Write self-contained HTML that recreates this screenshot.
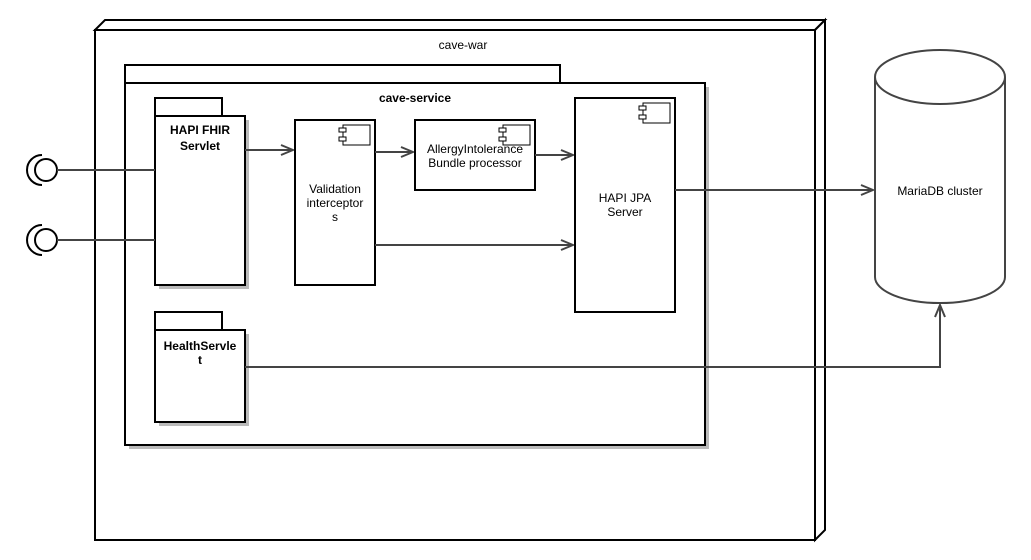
<!DOCTYPE html>
<html><head><meta charset="utf-8"><style>html,body{margin:0;padding:0;background:#fff}svg{display:block}text{font-family:"Liberation Sans",sans-serif;font-size:12px;fill:#000}</style></head><body>
<svg width="1031" height="560" viewBox="0 0 1031 560">
<defs><marker id="a" markerWidth="14" markerHeight="12" refX="13" refY="6" orient="auto" markerUnits="userSpaceOnUse"><path d="M1,1 L13,6 L1,11" fill="none" stroke="#444" stroke-width="2"/></marker></defs>
<g stroke="#000" stroke-width="2" fill="#fff">
<polygon points="95,30 105,20 825,20 815,30"/>
<polygon points="815,30 825,20 825,530 815,540"/>
<rect x="95" y="30" width="720" height="510"/>
</g>
<text x="463" y="49" text-anchor="middle">cave-war</text>
<rect x="129" y="87" width="580" height="362" fill="#bbb"/>
<g stroke="#000" stroke-width="2" fill="#fff">
<rect x="125" y="65" width="435" height="18"/>
<rect x="125" y="83" width="580" height="362"/>
</g>
<text x="415" y="102" text-anchor="middle" font-weight="bold">cave-service</text>
<rect x="159" y="120" width="90" height="169" fill="#bbb"/>
<rect x="159" y="334" width="90" height="92" fill="#bbb"/>
<g stroke="#000" stroke-width="2" fill="#fff">
<rect x="155" y="98" width="67" height="18"/>
<rect x="155" y="116" width="90" height="169"/>
<rect x="155" y="312" width="67" height="18"/>
<rect x="155" y="330" width="90" height="92"/>
<rect x="295" y="120" width="80" height="165"/>
<rect x="415" y="120" width="120" height="70"/>
<rect x="575" y="98" width="100" height="214"/>
</g>
<g stroke="#000" stroke-width="1" fill="#fff">
<rect x="343" y="125" width="27" height="20"/><rect x="339" y="128" width="7" height="4"/><rect x="339" y="137" width="7" height="4"/>
<rect x="503" y="125" width="27" height="20"/><rect x="499" y="128" width="7" height="4"/><rect x="499" y="137" width="7" height="4"/>
<rect x="643" y="103" width="27" height="20"/><rect x="639" y="106" width="7" height="4"/><rect x="639" y="115" width="7" height="4"/>
</g>
<g font-weight="bold" text-anchor="middle"><text x="200" y="134">HAPI FHIR</text><text x="200" y="150">Servlet</text>
<text x="200" y="350">HealthServle</text><text x="200" y="364">t</text></g>
<g text-anchor="middle"><text x="335" y="193">Validation</text><text x="335" y="207">interceptor</text><text x="335" y="221">s</text>
<text x="475" y="153">AllergyIntolerance</text><text x="475" y="167">Bundle processor</text>
<text x="625" y="202">HAPI JPA</text><text x="625" y="216">Server</text></g>
<path d="M875,77 A65,27 0 0 1 1005,77 L1005,277 A65,26 0 0 1 875,277 Z" fill="#fff" stroke="#444" stroke-width="2"/>
<path d="M875,77 A65,27 0 0 0 1005,77" fill="none" stroke="#444" stroke-width="2"/>
<text x="940" y="195" text-anchor="middle">MariaDB cluster</text>
<g stroke="#444" stroke-width="2" fill="none">
<circle cx="46" cy="170" r="11" stroke="#000"/><path d="M42,155 A15,15 0 0 0 42,185" stroke="#000"/>
<circle cx="46" cy="240" r="11" stroke="#000"/><path d="M42,225 A15,15 0 0 0 42,255" stroke="#000"/>
<line x1="57" y1="170" x2="155" y2="170"/><line x1="57" y1="240" x2="155" y2="240"/>
<line x1="245" y1="150" x2="293" y2="150" marker-end="url(#a)"/>
<line x1="375" y1="152" x2="413" y2="152" marker-end="url(#a)"/>
<line x1="535" y1="155" x2="573" y2="155" marker-end="url(#a)"/>
<line x1="375" y1="245" x2="573" y2="245" marker-end="url(#a)"/>
<line x1="675" y1="190" x2="873" y2="190" marker-end="url(#a)"/>
<polyline points="245,367 940,367 940,305" marker-end="url(#a)"/>
</g>
</svg>
</body></html>
